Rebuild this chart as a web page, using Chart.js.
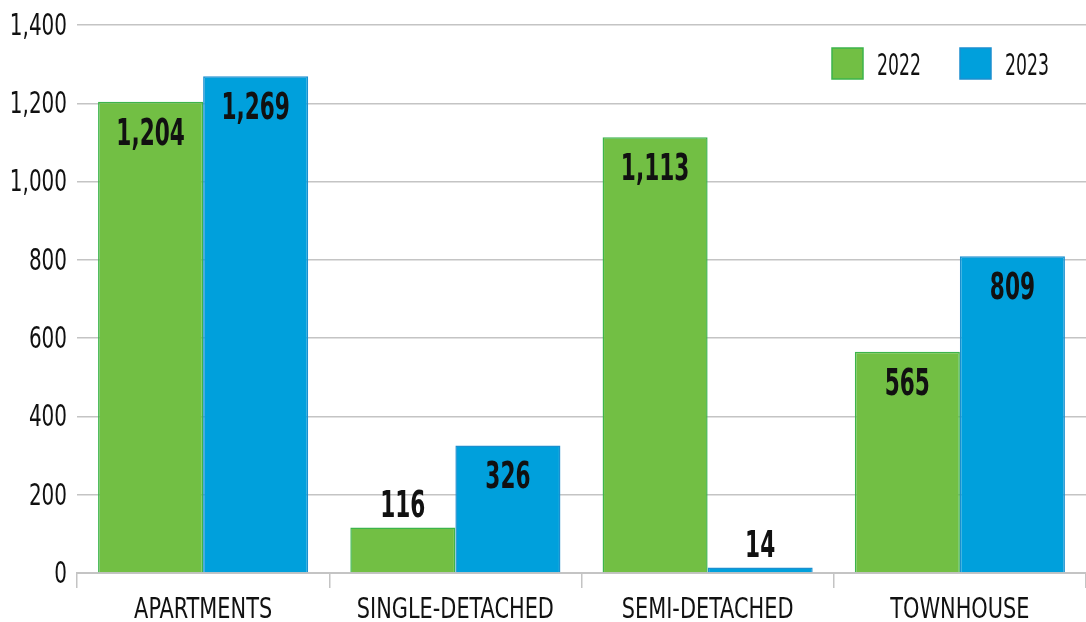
<!DOCTYPE html>
<html>
<head>
<meta charset="utf-8">
<script src="https://cdn.jsdelivr.net/npm/chart.js@4/dist/chart.umd.min.js"></script>
<style>
  html, body { margin: 0; padding: 0; background: #fff; }
  #wrap { width: 1086px; height: 622px; }
</style>
</head>
<body>
<div id="wrap"><canvas id="chart" width="1086" height="622"></canvas></div>
<script>
// Данные графика
const categories = ["APARTMENTS", "SINGLE-DETACHED", "SEMI-DETACHED", "TOWNHOUSE"];
const values2022 = [1204, 116, 1113, 565];
const values2023 = [1269, 326, 14, 809];
const seriesLabels = ["2022", "2023"];
const yTicks = [0, 200, 400, 600, 800, 1000, 1200, 1400];

const FONT = "'DejaVu Sans Condensed', 'DejaVu Sans', sans-serif";
const GRID = "#c4c4c4";
const INK = "#111";

// Узкий текст: сжимаем по горизонтали, чтобы было похоже на condensed-шрифт
function narrowText(ctx, text, x, y, align, sx) {
  ctx.save();
  ctx.translate(x, y);
  ctx.scale(sx, 1);
  ctx.textAlign = align;
  ctx.fillText(text, 0, 0);
  ctx.restore();
}

// Подписи осей (рисуем сами, через шкалы Chart.js)
const axisLabels = {
  id: "axisLabels",
  afterDraw(chart) {
    const ctx = chart.ctx;
    const xs = chart.scales.x;
    const ys = chart.scales.y;
    ctx.save();
    ctx.fillStyle = INK;
    ctx.textBaseline = "middle";
    ctx.font = "30px " + FONT;
    ys.ticks.forEach((t) => {
      const y = ys.getPixelForValue(t.value);
      narrowText(ctx, t.value.toLocaleString("en-US"), ys.right - 10, y + 2, "right", 0.74);
    });
    ctx.font = "29px " + FONT;
    categories.forEach((c, i) => {
      narrowText(ctx, c, xs.getPixelForValue(i), 610, "center", 0.8);
    });
    ctx.restore();
  },
};

// Подписи значений над/внутри столбцов
const valueLabels = {
  id: "valueLabels",
  afterDatasetsDraw(chart) {
    const ctx = chart.ctx;
    ctx.save();
    ctx.font = "bold 37px " + FONT;
    ctx.fillStyle = INK;
    ctx.textBaseline = "alphabetic";
    chart.data.datasets.forEach((ds, i) => {
      const meta = chart.getDatasetMeta(i);
      meta.data.forEach((bar, j) => {
        const v = ds.data[j];
        const y = v > 200 ? bar.y + 43 : bar.y - 11;
        narrowText(ctx, v.toLocaleString("en-US"), bar.x, y, "center", 0.65);
      });
    });
    ctx.restore();
  },
};

// Легенда в правом верхнем углу
const cornerLegend = {
  id: "cornerLegend",
  afterDraw(chart) {
    const ctx = chart.ctx;
    const area = chart.chartArea;
    const startX = [area.right - 254, area.right - 126];
    ctx.save();
    ctx.font = "30px " + FONT;
    ctx.textBaseline = "middle";
    chart.data.datasets.forEach((ds, i) => {
      const x = startX[i];
      ctx.fillStyle = ds.backgroundColor;
      ctx.strokeStyle = ds.borderColor;
      ctx.lineWidth = 1.5;
      ctx.fillRect(x, 48, 31, 31);
      ctx.strokeRect(x, 48, 31, 31);
      ctx.fillStyle = INK;
      narrowText(ctx, ds.label, x + 45, 67, "left", 0.64);
    });
    ctx.restore();
  },
};

const ctx = document.getElementById("chart").getContext("2d");
new Chart(ctx, {
  type: "bar",
  data: {
    labels: categories,
    datasets: [
      {
        label: seriesLabels[0],
        data: values2022,
        backgroundColor: "#72bf44",
        borderColor: "#3cb44b",
        borderWidth: 1.5,
      },
      {
        label: seriesLabels[1],
        data: values2023,
        backgroundColor: "#00a0dc",
        borderColor: "#1b8fcf",
        borderWidth: 1.5,
      },
    ],
  },
  options: {
    responsive: false,
    animation: false,
    devicePixelRatio: 1,
    categoryPercentage: 0.833,
    barPercentage: 1,
    layout: { padding: { left: 10, top: 25, right: 0, bottom: 0 } },
    plugins: {
      legend: { display: false },
      tooltip: { enabled: false },
    },
    scales: {
      x: {
        grid: {
          offset: true,
          drawOnChartArea: false,
          drawTicks: true,
          tickLength: 15,
          color: GRID,
          lineWidth: 1.5,
        },
        border: { display: true, color: GRID, width: 2 },
        ticks: { display: false },
        afterFit(axis) {
          axis.height = 49;
        },
      },
      y: {
        min: 0,
        max: 1400,
        afterBuildTicks(axis) {
          axis.ticks = yTicks.map((v) => ({ value: v }));
        },
        grid: { color: GRID, lineWidth: 1.5, drawTicks: false },
        border: { display: false },
        ticks: { display: false },
        afterFit(axis) {
          axis.width = 67;
        },
      },
    },
  },
  plugins: [valueLabels, cornerLegend, axisLabels],
});
</script>
</body>
</html>
